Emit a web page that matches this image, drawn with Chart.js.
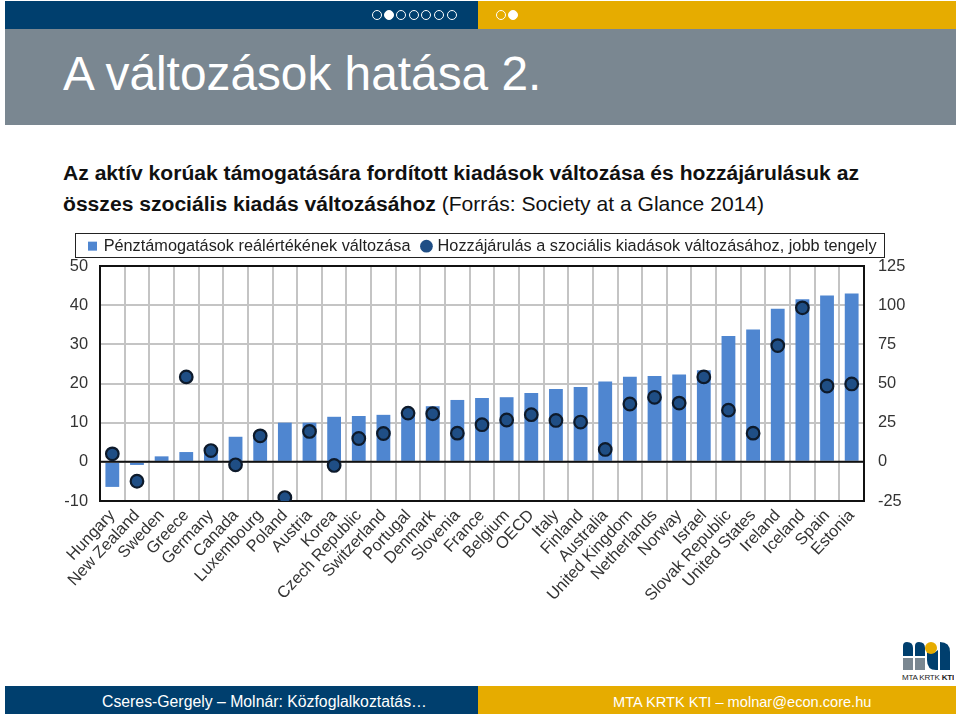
<!DOCTYPE html>
<html>
<head>
<meta charset="utf-8">
<script src="https://cdn.jsdelivr.net/npm/chart.js@4"></script>
<style>
html, body { margin: 0; padding: 0; background: #fff; }
body { position: relative; width: 960px; height: 716px; overflow: hidden; font-family: "Liberation Sans", Arial, sans-serif; }
.abs { position: absolute; }
.dot { position: absolute; top: 10px; width: 8px; height: 8px; border: 1.5px solid #fff; border-radius: 50%; }
.dot.on { background: #fff; }
#heading { left: 63px; top: 158px; width: 860px; font-size: 21.1px; line-height: 30.5px; color: #111; white-space: nowrap; }
#chartBox { left: 60px; top: 225px; width: 846px; height: 400px; }
</style>
</head>
<body>
<div class="abs" style="left:5px;top:1px;width:473px;height:28px;background:#003f6e"></div>
<div class="abs" style="left:478px;top:1px;width:478px;height:28px;background:#e6ac00"></div>
<div class="abs" style="left:5px;top:29px;width:951px;height:96px;background:#7a8791"></div>
<div class="dot" style="left:372px"></div>
<div class="dot on" style="left:384px"></div>
<div class="dot" style="left:396px"></div>
<div class="dot" style="left:409px"></div>
<div class="dot" style="left:421px"></div>
<div class="dot" style="left:434px"></div>
<div class="dot" style="left:447px"></div>
<div class="dot" style="left:496px"></div>
<div class="dot on" style="left:508px"></div>
<div class="abs" style="left:63px;top:47px;font-size:47.8px;line-height:54px;color:#fff;white-space:nowrap">A változások hatása 2.</div>
<div class="abs" id="heading"><b>Az aktív korúak támogatására fordított kiadások változása és hozzájárulásuk az<br>összes szociális kiadás változásához</b> (Forrás: Society at a Glance 2014)</div>
<div class="abs" id="chartBox"><canvas id="benefitChart" width="846" height="400"></canvas></div>
<svg class="abs" style="left:900px;top:640px" width="54" height="42" viewBox="0 0 54 42">
  <path fill="#003f6e" d="M3 16 V6 Q3 2 7 2 Q13 2 13 8 V16z M15 16 V6 Q15 2 19 2 Q25 2 25 8 V16z M27 16 V10 Q32 16 38 10 V30 H36 Q27 30 27 20z M40 30 V2 Q50 2 50 12 V30z"/>
  <circle cx="31" cy="8" r="6" fill="#e6ac00"/>
  <path fill="#7a8791" d="M3 18 H13 V30 H3z M15 18 H25 V30 H15z"/>
  <text x="2" y="39.5" font-size="8" letter-spacing="-0.2" fill="#222" font-family="Liberation Sans">MTA KRTK <tspan font-weight="bold">KTI</tspan></text>
</svg>
<div class="abs" style="left:5px;top:686px;width:473px;height:28px;background:#003f6e"></div>
<div class="abs" style="left:478px;top:686px;width:478px;height:28px;background:#e6ac00"></div>
<div class="abs" style="left:102px;top:692px;font-size:15.8px;line-height:20px;color:#fff;white-space:nowrap">Cseres-Gergely – Molnár: Közfoglalkoztatás…</div>
<div class="abs" style="left:613px;top:692px;font-size:14.6px;line-height:20px;color:#fff;white-space:nowrap">MTA KRTK KTI – molnar@econ.core.hu</div>
<script>
const countries = ['Hungary', 'New Zealand', 'Sweden', 'Greece', 'Germany', 'Canada', 'Luxembourg', 'Poland', 'Austria', 'Korea', 'Czech Republic', 'Switzerland', 'Portugal', 'Denmark', 'Slovenia', 'France', 'Belgium', 'OECD', 'Italy', 'Finland', 'Australia', 'United Kingdom', 'Netherlands', 'Norway', 'Israel', 'Slovak Republic', 'United States', 'Ireland', 'Iceland', 'Spain', 'Estonia'];
const cashBenefitChange = [-6.4, -0.8, 1.4, 2.5, 3.5, 6.4, 6.8, 10, 10, 11.5, 11.7, 12, 12.5, 14.2, 15.8, 16.3, 16.5, 17.6, 18.6, 19.1, 20.5, 21.7, 21.9, 22.3, 23.4, 32.1, 33.8, 39.1, 41.5, 42.5, 43];
const socialContribution = [5.1, -12.4, null, 54.2, 7.2, -1.9, 16.6, -22.8, 19.4, -2.3, 14.9, 18.1, 31.1, 30.7, 18.3, 23.7, 26.7, 30.1, 26.4, 25.4, 7.9, 36.9, 41.2, 37.5, 54.2, 33, 18.3, 74.2, 98.3, 48.4, 49.7];
const leftTicks = [50, 40, 30, 20, 10, 0, -10];
const rightTicks = [125, 100, 75, 50, 25, 0, -25];

const labelFont = { family: '"Liberation Sans", Arial, sans-serif', size: 16.4 };

// zero line and frame sit on top of the bars but under the dots
const frameAndZeroLine = {
    id: 'frameAndZeroLine',
    beforeInit(chart) {
        const fit = chart.legend.fit;
        chart.legend.fit = function () {
            fit.call(this);
            this.height = 41;
        };
    },
    afterDatasetDraw(chart, args) {
        if (args.index !== 0) return;
        const { ctx, chartArea: area, scales } = chart;
        const zeroY = scales.y.getPixelForValue(0);
        ctx.save();
        ctx.strokeStyle = '#111';
        ctx.lineWidth = 2;
        ctx.beginPath();
        ctx.moveTo(area.left, zeroY);
        ctx.lineTo(area.right, zeroY);
        ctx.stroke();
        ctx.strokeRect(area.left, area.top, area.right - area.left, area.bottom - area.top);
        ctx.restore();
    },
    beforeDraw(chart) {
        const { ctx } = chart;
        ctx.save();
        ctx.strokeStyle = '#222';
        ctx.lineWidth = 1;
        ctx.strokeRect(15.5, 8.5, 809, 24);
        ctx.restore();
    }
};

new Chart(document.getElementById('benefitChart'), {
    data: {
        labels: countries,
        datasets: [
            {
                type: 'bar',
                label: 'Pénztámogatások reálértékének változása',
                data: cashBenefitChange,
                backgroundColor: '#4f86d0',
                barPercentage: 0.7,
                categoryPercentage: 0.8,
                yAxisID: 'y',
                order: 2
            },
            {
                type: 'line',
                label: 'Hozzájárulás a szociális kiadások változásához, jobb tengely',
                data: socialContribution,
                showLine: false,
                pointStyle: 'circle',
                pointRadius: 6.3,
                pointBorderWidth: 2.2,
                pointBackgroundColor: '#1f4e85',
                pointBorderColor: '#0d1a2b',
                backgroundColor: '#1f4e85',
                borderColor: '#1f4e85',
                yAxisID: 'y2',
                order: 1
            }
        ]
    },
    options: {
        responsive: false,
        animation: false,
        plugins: {
            title: { display: false },
            tooltip: { enabled: false },
            legend: {
                position: 'top',
                labels: {
                    color: '#222',
                    font: { family: '"Liberation Sans", Arial, sans-serif', size: 16.3 },
                    usePointStyle: true,
                    boxWidth: 6,
                    boxHeight: 9,
                    padding: 13,
                    generateLabels(chart) {
                        return Chart.defaults.plugins.legend.labels.generateLabels(chart)
                            .sort((a, b) => a.datasetIndex - b.datasetIndex)
                            .map(item => ({
                                ...item,
                                pointStyle: item.datasetIndex === 0 ? 'rect' : 'circle',
                                lineWidth: 0,
                                strokeStyle: 'transparent'
                            }));
                    }
                }
            }
        },
        scales: {
            x: {
                offset: true,
                ticks: {
                    color: '#333',
                    font: labelFont,
                    minRotation: 47,
                    maxRotation: 47,
                    autoSkip: false,
                    padding: 5
                },
                grid: { color: '#c4c4c4', lineWidth: 2, offset: true, drawTicks: false },
                border: { display: false },
                afterFit(scale) { scale.height = 124; }
            },
            y: {
                position: 'left',
                min: -10,
                max: 50,
                afterBuildTicks(scale) { scale.ticks = leftTicks.map(value => ({ value })); },
                ticks: { color: '#333', font: labelFont, padding: 12 },
                grid: { color: '#c4c4c4', lineWidth: 2, drawTicks: false },
                border: { display: false },
                afterFit(scale) { scale.width = 40; }
            },
            y2: {
                position: 'right',
                min: -25,
                max: 125,
                afterBuildTicks(scale) { scale.ticks = rightTicks.map(value => ({ value })); },
                ticks: { color: '#333', font: labelFont, padding: 14 },
                grid: { display: false, drawTicks: false },
                border: { display: false },
                afterFit(scale) { scale.width = 42; }
            }
        }
    },
    plugins: [frameAndZeroLine]
});
</script>
</body>
</html>
